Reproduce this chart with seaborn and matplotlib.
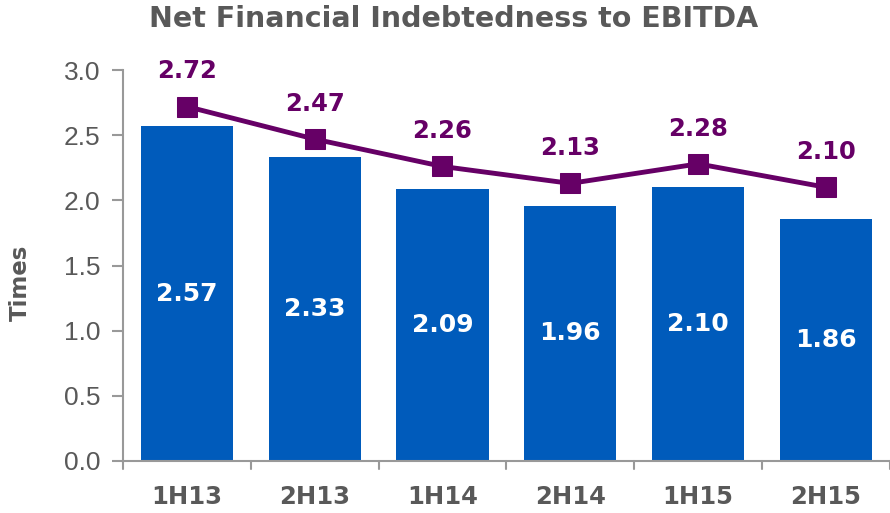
import matplotlib
matplotlib.use("Agg")
import matplotlib.pyplot as plt
import seaborn as sns
import pandas as pd
import numpy as np

categories = ["1H13", "2H13", "1H14", "2H14", "1H15", "2H15"]
bar_values = [2.57, 2.33, 2.09, 1.96, 2.10, 1.86]
line_values = [2.72, 2.47, 2.26, 2.13, 2.28, 2.10]
yticks = [0.0, 0.5, 1.0, 1.5, 2.0, 2.5, 3.0]

sns.set_theme(style="white")
plt.rcParams['font.family'] = ['DejaVu Sans']

BAR = "#005BBB"
LINE = "#660066"
GREY = "#595959"
SPINE = "#999999"

df = pd.DataFrame({"period": categories, "bar": bar_values, "line": line_values})

fig = plt.figure(figsize=(8.9, 5.13), dpi=100)
ax = fig.add_axes([0.138, 0.1014, 0.862, 0.7621])

sns.barplot(data=df, x="period", y="bar", color=BAR, width=0.72, ax=ax,
            saturation=1, edgecolor="none")
sns.lineplot(x=np.arange(len(categories)), y=df["line"], color=LINE, lw=3.5,
             marker="s", markersize=15, markeredgecolor=LINE, ax=ax)

ax.set_xlim(-0.5, len(categories) - 0.5)
ax.set_ylim(0, 3.0)
ax.set_yticks(yticks)
ax.set_yticklabels([f"{v:.1f}" for v in yticks], fontsize=19, color=GREY,
                   family="Liberation Sans")
ax.set_xticks(np.arange(len(categories)))
ax.set_xticklabels(categories, fontsize=17.5, fontweight="bold", color=GREY)
ax.tick_params(axis="x", length=0, pad=17)
ax.tick_params(axis="y", length=8, width=1.5, color=SPINE, left=True, pad=8)
# boundary ticks on x axis
for b in np.arange(-0.5, len(categories) + 0.5, 1.0):
    ax.plot([b, b], [0, -0.06], color=SPINE, lw=1.5, clip_on=False, zorder=5)

for s in ["top", "right"]:
    ax.spines[s].set_visible(False)
for s in ["left", "bottom"]:
    ax.spines[s].set_color(SPINE)
    ax.spines[s].set_linewidth(1.5)

ax.set_xlabel("")
ax.set_ylabel("Times", fontsize=16.5, fontweight="bold", color=GREY)
ax.yaxis.set_label_coords(-0.119, 0.455)

for i, (b, l) in enumerate(zip(bar_values, line_values)):
    ax.text(i, b / 2, f"{b:.2f}", ha="center", va="center", color="white",
            fontsize=18, fontweight="bold")
    ax.text(i, l + 0.27, f"{l:.2f}", ha="center", va="center", color=LINE,
            fontsize=17.5, fontweight="bold")

fig.text(0.51, 0.962, "Net Financial Indebtedness to EBITDA", ha="center",
         va="center", fontsize=20.5, fontweight="bold", color=GREY)

fig.savefig("out.png", dpi=100)
